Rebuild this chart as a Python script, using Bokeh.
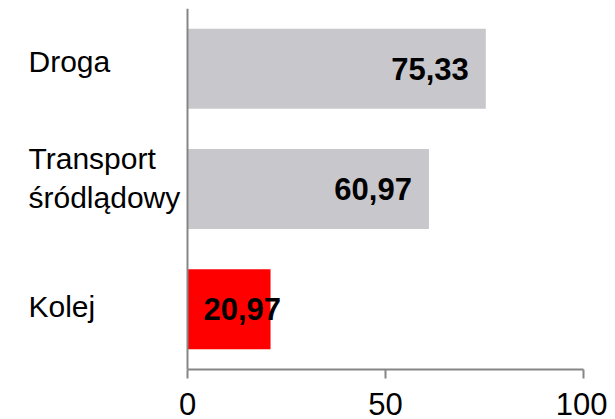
from bokeh.plotting import figure
from bokeh.models import ColumnDataSource, FactorRange, Range1d, FixedTicker, Span
from bokeh.embed import file_html
from bokeh.resources import INLINE
from bokeh.core.properties import value

# ---- data ----
categories = ["Droga", "Transport śródlądowy", "Kolej"]
display_names = ["Droga", "Transport\nśródlądowy", "Kolej"]
values = [75.33, 60.97, 20.97]
bar_colors = ["#C8C7CC", "#C8C7CC", "#FF0000"]
x_ticks = [0, 50, 100]

FONT = "Liberation Sans"

value_text = [f"{v:.2f}".replace(".", ",") for v in values]
small = [v < 30 for v in values]
lab_x = [0 if s else v for v, s in zip(values, small)]
lab_align = ["left" if s else "right" for s in small]
lab_off = [16 if s else -17 for s in small]
name_yoff = [-7, -11, -3]

# left area (for category names) expressed as extra room on the x range
AXIS_PX = 187
PLOT_PX = 396
x_start = -AXIS_PX / PLOT_PX * (x_ticks[-1] - x_ticks[0])

src = ColumnDataSource(dict(cat=categories, val=values, color=bar_colors,
                            txt=value_text, lx=lab_x, la=lab_align, lo=lab_off,
                            name=display_names, nx=[x_start] * len(categories),
                            ny=name_yoff))

p = figure(y_range=FactorRange(factors=categories[::-1]),
           x_range=Range1d(x_start, x_ticks[-1]),
           frame_width=AXIS_PX + PLOT_PX, frame_height=361,
           min_border_left=0, min_border_right=24,
           min_border_top=8, min_border_bottom=50,
           output_backend="svg", toolbar_location=None)

p.hbar(y="cat", right="val", left=0, height=0.665, fill_color="color",
       line_color=None, source=src)

p.text(x="lx", y="cat", text="txt", text_align="la", x_offset="lo",
       text_baseline="middle", text_font=value(FONT), text_font_size="31px",
       text_font_style="bold", text_color="black", source=src)

# category names
p.text(x="nx", y="cat", text="name", text_align="left", x_offset=28,
       y_offset="ny", text_baseline="middle", text_font=value(FONT),
       text_font_size="30px", text_line_height=1.2, text_color="black",
       source=src)

p.xgrid.visible = False
p.ygrid.visible = False
p.outline_line_color = None
p.yaxis.visible = False

# vertical axis line at x = 0
p.add_layout(Span(location=0, dimension="height", line_color="#868686", line_width=2))

xa = p.xaxis[0]
xa.ticker = FixedTicker(ticks=x_ticks)
xa.bounds = (x_ticks[0], x_ticks[-1])
xa.axis_line_color = "#868686"
xa.axis_line_width = 2
xa.major_tick_line_color = "#868686"
xa.major_tick_line_width = 2
xa.major_tick_out = 9
xa.major_tick_in = 0
xa.minor_tick_line_color = None
xa.major_label_text_font = FONT
xa.major_label_text_font_size = "31px"
xa.major_label_text_color = "black"
xa.major_label_standoff = 14

open("out.html", "w").write(file_html(p, INLINE))
